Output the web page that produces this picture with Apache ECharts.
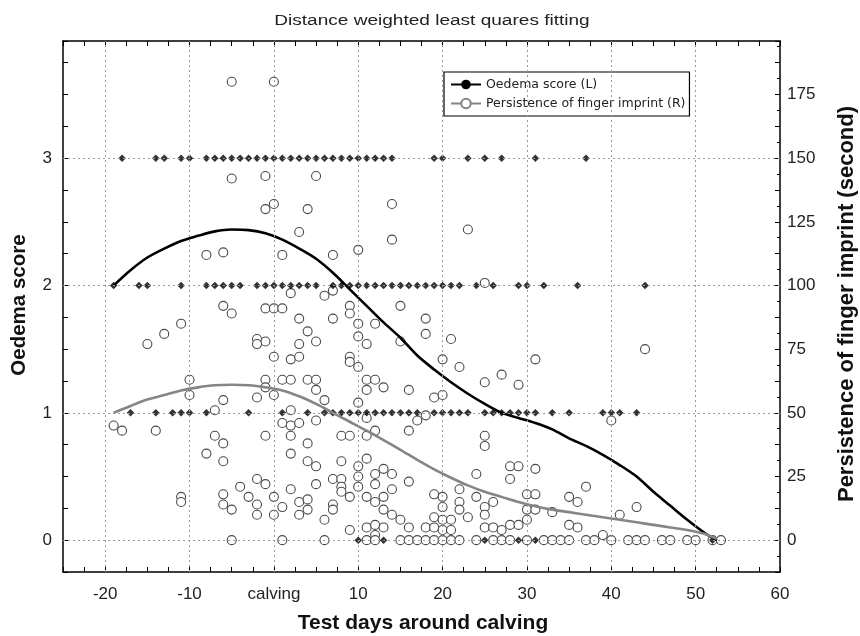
<!DOCTYPE html>
<html>
<head>
<meta charset="utf-8">
<script src="https://cdn.jsdelivr.net/npm/echarts@6/dist/echarts.min.js"></script>
<style>html,body{margin:0;padding:0;background:#fff}#c{width:860px;height:636px}</style>
</head>
<body>
<div id="c"></div>
<script>
// ---- data ----
var oedemaDays3 = [-18,-14,-13,-11,-10,-8,-7,-6,-5,-4,-3,-2,-1,0,1,2,3,4,5,6,7,8,9,10,11,12,13,14,19,20,23,25,27,31,37];
var oedemaDays2 = [-19,-16,-15,-11,-8,-7,-6,-5,-4,-2,-1,0,1,2,3,4,5,7,8,9,10,11,12,13,14,15,16,17,18,19,20,21,22,24,26,29,30,32,36,44];
var oedemaDays1 = [-17,-14,-12,-11,-10,-8,-3,1,4,6,7,8,9,10,11,12,13,14,15,16,17,19,20,21,22,23,25,26,27,28,29,30,31,33,35,39,40,41,43];
var oedemaDays0 = [10,13,25,29,31,52];

// persistence of finger imprint: [day, seconds]
var persistPoints = [
  [-5,180],[0,180],
  [-5,142],[-1,143],[5,143],
  [-1,130],[0,132],[4,130],[14,132],
  [3,121],[14,118],[23,122],
  [-8,112],[-6,113],[1,112],[7,112],[10,114],
  [2,97],[6,96],[7,98],[25,101],
  [-6,92],[-5,89],[-1,91],[0,91],[1,91],[9,92],[9,89],[15,92],
  [18,87],[18,81],
  [-11,85],[-13,81],[-15,77],
  [3,87],[7,87],[10,85],[12,85],[10,80],
  [-2,79],[-1,78],[-2,77],[4,82],[5,78],[3,77],[11,77],[15,78],
  [21,79],[20,71],[22,68],[31,71],[44,75],
  [0,72],[2,71],[3,72],[9,72],[10,68],[9,70],
  [-10,63],[-10,57],[-1,63],[-1,60],[1,63],[2,63],[4,63],[5,63],[5,59],[11,63],[12,63],[11,59],[13,60],[16,59],
  [0,57],[-2,56],[-6,55],[6,55],[10,54],
  [19,56],[20,57],[25,62],[27,65],[29,61],
  [-7,51],[2,51],
  [11,48],[-19,45],[-18,43],[-14,43],[1,46],[2,45],[3,46],[5,47],[12,43],[16,43],
  [18,49],[17,47],[40,47],
  [-7,41],[-6,38],[-1,41],[2,41],[8,41],[9,41],[11,41],[4,38],[25,41],[25,37],
  [-8,34],[-6,31],[2,34],[4,31],[5,29],[8,31],[10,29],[11,32],
  [-2,24],[-1,22],[-4,21],[2,20],[5,22],[7,24],[8,24],[8,21],[10,25],[10,21],[12,26],[12,22],[13,28],[14,26],[16,23],[14,20],[13,17],
  [-11,17],[-11,15],[-6,18],[-6,14],[-5,12],[-3,17],[-2,14],[-2,10],[0,17],[0,10],[1,13],[3,15],[3,10],[4,16],[4,12],[6,8],[7,14],[7,12],[8,19],[9,17],[11,17],[12,15],[13,12],[14,10],[15,8],[16,5],
  [9,4],[11,5],[12,6],[13,5],[12,2],
  [24,26],[28,29],[29,29],[31,28],[28,24],[22,20],[19,18],[20,17],[24,17],[30,18],[31,18],[37,21],[35,17],[36,15],[22,15],[20,13],[25,13],[26,15],[22,12],[23,9],[30,12],[31,12],[33,11],[43,13],[41,10],
  [19,9],[20,8],[21,8],[30,8],[25,10],[25,5],[28,6],[29,6],[35,6],[36,5],[18,5],[19,5],[20,4],[21,4],[26,5],[27,4],[39,2]
];
var persistZeroDays = [-5,1,6,11,12,15,16,17,18,19,20,21,22,24,26,27,28,30,32,33,34,35,37,38,40,42,43,44,46,47,49,50,52,53];

var fitDays    = [-19,-17,-15,-13,-11,-9,-7,-5,-3,-1,1,3,5,7,9,11,13,15,17,19,21,23,25,27,29,31,33,35,37,39,41,43,45,47,49,51,52.5];
var oedemaFit  = [2.0,2.12,2.22,2.29,2.35,2.39,2.425,2.44,2.435,2.41,2.36,2.29,2.21,2.1,1.97,1.84,1.71,1.59,1.45,1.34,1.24,1.15,1.07,1.0,0.96,0.92,0.87,0.8,0.74,0.67,0.59,0.5,0.38,0.27,0.16,0.06,0.0];
var persistFit = [50,52.7,55.2,57,58.8,60,60.8,61,60.8,60,58.8,56.5,53.5,50,46.5,43,39.3,35.5,31.5,27.8,24.5,21.5,19,17,15,13.3,12,11,10,9,8,7,6,5,4,2.5,0.5];

var xGridTicks = [-20,-10,0,10,20,30,40,50];
var yGridTicks = [0,1,2,3];
var titleText = 'Distance weighted least quares fitting';

// ---- build ----
function lvl(days, v){ return days.map(function(d){ return [d, v]; }); }
var oedemaPts = [].concat(lvl(oedemaDays0,0), lvl(oedemaDays1,1), lvl(oedemaDays2,2), lvl(oedemaDays3,3));
var persistPts = persistPoints.concat(lvl(persistZeroDays, 0));
var oedemaLine = fitDays.map(function(d,i){ return [d, oedemaFit[i]]; });
var persistLine = fitDays.map(function(d,i){ return [d, persistFit[i]]; });

var FONT = '"Liberation Sans", Arial, sans-serif';
var gridMarks = [].concat(
  xGridTicks.map(function(v){ return {xAxis: v}; }),
  yGridTicks.map(function(v){ return {yAxis: v}; })
);
var axisLineStyle = {show: true, onZero: false, lineStyle: {color: '#000', width: 1.5}};
var tickStyle = {show: true, inside: true, length: 5, lineStyle: {color: '#000'}};

var chart = echarts.init(document.getElementById('c'), null, {renderer:'canvas'});
chart.setOption({
  backgroundColor: '#fff',
  animation: false,
  legend: {
    data: ['Oedema score (L)', 'Persistence of finger imprint (R)'],
    orient: 'vertical', left: 444, top: 72,
    backgroundColor: '#fff', borderColor: '#000', borderWidth: 1.2,
    padding: [6, 4, 6, 6], itemGap: 6, itemWidth: 30, itemHeight: 12,
    textStyle: {fontFamily: '"DejaVu Sans", sans-serif', fontSize: 12.5, color: '#222'}
  },
  grid: {left: 63, right: 80, top: 41, bottom: 64, containLabel: false},
  xAxis: [{
    type: 'value', min: -25, max: 60, interval: 2.5, position: 'bottom',
    axisLine: axisLineStyle, axisTick: tickStyle, splitLine: {show: false},
    axisLabel: {
      fontFamily: FONT, fontSize: 17, color: '#222', margin: 14,
      formatter: function(v){ return (Math.abs(v % 10) < 1e-9) ? (v === 0 ? 'calving' : String(v)) : ''; }
    }
  }, {
    type: 'value', min: -25, max: 60, interval: 2.5, position: 'top',
    axisLine: axisLineStyle, axisTick: tickStyle, splitLine: {show: false}, axisLabel: {show: false}
  }],
  yAxis: [{
    type: 'value', min: -0.25, max: 3.92, interval: 0.25, position: 'left',
    axisLine: axisLineStyle, axisTick: tickStyle, splitLine: {show: false},
    axisLabel: {
      fontFamily: FONT, fontSize: 17, color: '#222', margin: 11,
      formatter: function(v){ return (v >= 0 && Math.abs(v - Math.round(v)) < 1e-9) ? String(Math.round(v)) : ''; }
    }
  }, {
    type: 'value', min: -12.5, max: 196, interval: 12.5, position: 'right',
    axisLine: axisLineStyle, axisTick: tickStyle, splitLine: {show: false},
    minorTick: {show: true, splitNumber: 2, length: 3, lineStyle: {color: '#000'}},
    axisLabel: {
      fontFamily: FONT, fontSize: 17, color: '#222', margin: 7,
      formatter: function(v){ return (v >= 0 && Math.abs(v % 25) < 1e-9) ? String(v) : ''; }
    }
  }],
  graphic: [
    {type: 'text', x: 432, y: 21, scaleX: 1.36,
     style: {text: titleText, textAlign: 'center', textVerticalAlign: 'middle',
             font: '14px ' + FONT, fill: '#222'}},
    {type: 'text', x: 19, y: 305, rotation: Math.PI / 2,
     style: {text: 'Oedema score', textAlign: 'center', textVerticalAlign: 'middle',
             font: 'bold 20.5px ' + FONT, fill: '#111'}},
    {type: 'text', x: 847, y: 304, rotation: Math.PI / 2,
     style: {text: 'Persistence of finger imprint (second)', textAlign: 'center', textVerticalAlign: 'middle',
             font: 'bold 22px ' + FONT, fill: '#111'}},
    {type: 'text', x: 423, y: 623,
     style: {text: 'Test days around calving', textAlign: 'center', textVerticalAlign: 'middle',
             font: 'bold 21px ' + FONT, fill: '#111'}}
  ],
  series: [
    {
      name: 'grid', type: 'scatter', xAxisIndex: 0, yAxisIndex: 0, data: [], silent: true, z: 0,
      markLine: {silent: true, symbol: ['none','none'], label: {show: false}, animation: false,
        lineStyle: {type: [2, 3], color: '#9a9a9a', width: 1}, data: gridMarks}
    },
    {
      name: 'Persistence points', type: 'scatter', xAxisIndex: 0, yAxisIndex: 1,
      symbol: 'circle', symbolSize: 9, data: persistPts, z: 2,
      itemStyle: {color: '#fff', borderColor: '#4a4a4a', borderWidth: 1.1, opacity: 1}
    },
    {
      name: 'Oedema points', type: 'scatter', xAxisIndex: 0, yAxisIndex: 0,
      symbol: 'diamond', symbolSize: 7.5, data: oedemaPts, z: 3,
      itemStyle: {color: '#000'}
    },
    {
      name: 'Oedema score (L)', type: 'line', xAxisIndex: 0, yAxisIndex: 0,
      data: oedemaLine, smooth: 0.3, symbol: 'none', z: 4,
      lineStyle: {color: '#000', width: 2.6}, itemStyle: {color: '#000'}
    },
    {
      name: 'Persistence of finger imprint (R)', type: 'line', xAxisIndex: 0, yAxisIndex: 1,
      data: persistLine, smooth: 0.3, symbol: 'circle', symbolSize: 6, showSymbol: false, z: 4,
      lineStyle: {color: '#858585', width: 2.6},
      itemStyle: {color: '#fff', borderColor: '#858585', borderWidth: 1.5}
    }
  ]
});
</script>
</body>
</html>
